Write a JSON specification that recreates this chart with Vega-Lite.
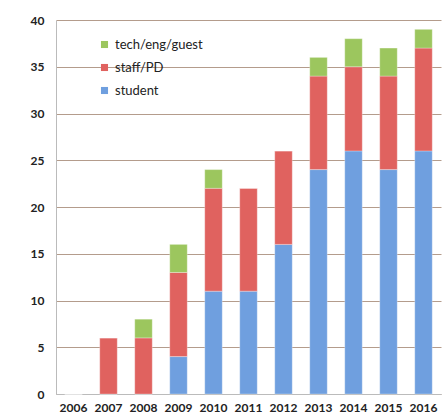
{
  "$schema": "https://vega.github.io/schema/vega-lite/v6.json",
  "autosize": "none",
  "width": 385,
  "height": 374,
  "padding": {"left": 56, "top": 20, "right": 5, "bottom": 24},
  "background": "white",
  "data": {"values": [
    {"year": "2006", "role": "student", "n": 0},
    {"year": "2006", "role": "staff/PD", "n": 0},
    {"year": "2006", "role": "tech/eng/guest", "n": 0},
    {"year": "2007", "role": "student", "n": 0},
    {"year": "2007", "role": "staff/PD", "n": 6},
    {"year": "2007", "role": "tech/eng/guest", "n": 0},
    {"year": "2008", "role": "student", "n": 0},
    {"year": "2008", "role": "staff/PD", "n": 6},
    {"year": "2008", "role": "tech/eng/guest", "n": 2},
    {"year": "2009", "role": "student", "n": 4},
    {"year": "2009", "role": "staff/PD", "n": 9},
    {"year": "2009", "role": "tech/eng/guest", "n": 3},
    {"year": "2010", "role": "student", "n": 11},
    {"year": "2010", "role": "staff/PD", "n": 11},
    {"year": "2010", "role": "tech/eng/guest", "n": 2},
    {"year": "2011", "role": "student", "n": 11},
    {"year": "2011", "role": "staff/PD", "n": 11},
    {"year": "2011", "role": "tech/eng/guest", "n": 0},
    {"year": "2012", "role": "student", "n": 16},
    {"year": "2012", "role": "staff/PD", "n": 10},
    {"year": "2012", "role": "tech/eng/guest", "n": 0},
    {"year": "2013", "role": "student", "n": 24},
    {"year": "2013", "role": "staff/PD", "n": 10},
    {"year": "2013", "role": "tech/eng/guest", "n": 2},
    {"year": "2014", "role": "student", "n": 26},
    {"year": "2014", "role": "staff/PD", "n": 9},
    {"year": "2014", "role": "tech/eng/guest", "n": 3},
    {"year": "2015", "role": "student", "n": 24},
    {"year": "2015", "role": "staff/PD", "n": 10},
    {"year": "2015", "role": "tech/eng/guest", "n": 3},
    {"year": "2016", "role": "student", "n": 26},
    {"year": "2016", "role": "staff/PD", "n": 11},
    {"year": "2016", "role": "tech/eng/guest", "n": 2}
  ]},
  "transform": [
    {"calculate": "indexof(['student', 'staff/PD', 'tech/eng/guest'], datum.role)", "as": "stackRank"}
  ],
  "mark": {"type": "bar", "stroke": "#ffffff", "strokeWidth": 0.3},
  "encoding": {
    "x": {
      "field": "year", "type": "ordinal",
      "scale": {"paddingInner": 0.5, "paddingOuter": 0.25},
      "axis": {"title": null, "labelAngle": 0, "labelFont": "Lato", "labelFontSize": 12, "labelColor": "#222222", "labelFontWeight": "bold", "ticks": false, "domainColor": "#bbbbbb", "labelPadding": 8}
    },
    "y": {
      "field": "n", "type": "quantitative", "stack": "zero",
      "scale": {"domain": [0, 40], "nice": false},
      "axis": {"title": null, "values": [0, 5, 10, 15, 20, 25, 30, 35, 40], "labelFont": "Lato", "labelFontSize": 12, "labelFontWeight": "bold", "labelColor": "#222222", "labelPadding": 12, "ticks": false, "domainColor": "#bbbbbb", "gridColor": "#b49c8c", "gridWidth": 1}
    },
    "color": {
      "field": "role", "type": "nominal",
      "scale": {"domain": ["tech/eng/guest", "staff/PD", "student"], "range": ["#9cc65e", "#e0625f", "#6f9fdf"]},
      "legend": {"title": null, "orient": "none", "legendX": 42, "legendY": 18, "symbolType": "square", "symbolSize": 50, "labelFont": "Lato", "labelFontSize": 13, "labelColor": "#222222", "rowPadding": 9, "symbolStrokeWidth": 0}
    },
    "order": {"field": "stackRank", "type": "quantitative", "sort": "ascending"}
  },
  "config": {"view": {"stroke": null}}
}
